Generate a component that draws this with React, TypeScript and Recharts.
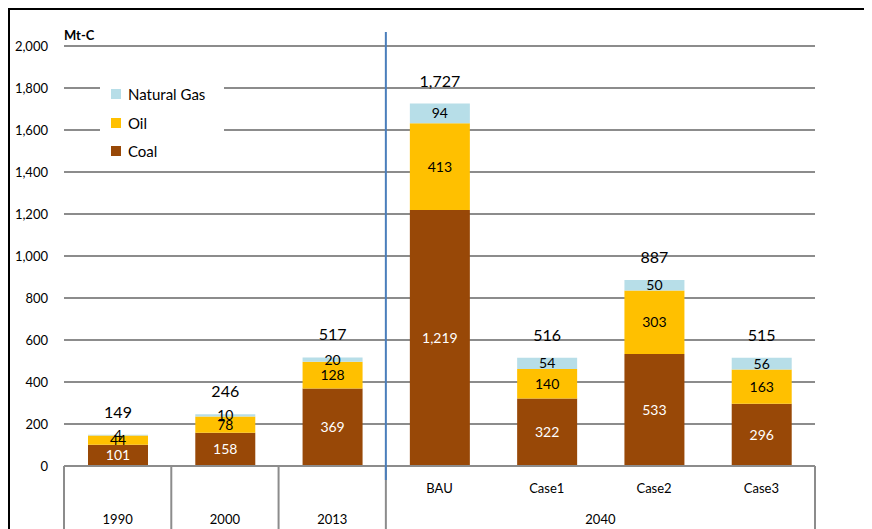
import { BarChart, Bar, XAxis, YAxis, CartesianGrid, LabelList } from 'recharts'

const groups = ['1990', '2000', '2013', '2040', '2040', '2040', '2040']
const cases = ['', '', '', 'BAU', 'Case1', 'Case2', 'Case3']
const coal = [101, 158, 369, 1219, 322, 533, 296]
const oil = [44, 78, 128, 413, 140, 303, 163]
const gas = [4, 10, 20, 94, 54, 50, 56]
const totals = [149, 246, 517, 1727, 516, 887, 515]
const yTicks = [0, 200, 400, 600, 800, 1000, 1200, 1400, 1600, 1800, 2000]

const series = [
  { key: 'coal', name: 'Coal', color: '#984807', text: '#ffffff' },
  { key: 'oil', name: 'Oil', color: '#ffc000', text: '#000000' },
  { key: 'gas', name: 'Natural Gas', color: '#b7dee8', text: '#000000' },
]

const data = groups.map((g, i) => ({
  name: cases[i] || g,
  coal: coal[i],
  oil: oil[i],
  gas: gas[i],
  total: totals[i],
}))

const FONT = 'Lato, "Noto Sans", sans-serif'
const CHART_W = 862
const CHART_H = 519
const M_LEFT = 54
const M_TOP = 36
const M_RIGHT = 57
const X_H = 63
const PLOT_W = CHART_W - M_LEFT - M_RIGHT
const BAND = PLOT_W / groups.length
const AXIS_Y = CHART_H - X_H
const GRID = '#8c8c8c'

const fmt = (v: number) => v.toLocaleString('en-US')

function AxisTick(props: any) {
  const { x, index } = props
  const g = groups[index]
  const c = cases[index]
  const first = groups.indexOf(g) === index
  const n = groups.filter((v) => v === g).length
  return (
    <g>
      {c && (
        <text x={x} y={AXIS_Y + 22} textAnchor="middle" dominantBaseline="central" fontSize={13} fill="#000">
          {c}
        </text>
      )}
      {first && (
        <text
          x={x - BAND / 2 + (n * BAND) / 2}
          y={AXIS_Y + 53}
          textAnchor="middle"
          dominantBaseline="central"
          fontSize={13}
          fill="#000"
        >
          {g}
        </text>
      )}
    </g>
  )
}

// boundaries between year groups in the axis table
const boundaries = groups
  .map((g, i) => (groups.indexOf(g) === i ? i : -1))
  .filter((i) => i >= 0)
  .concat([groups.length])

export default function App() {
  return (
    <div
      style={{
        position: 'relative',
        width: 864,
        height: 521,
        borderTop: '2px solid #000',
        borderLeft: '2px solid #000',
        boxSizing: 'border-box',
        fontFamily: FONT,
      }}
    >
      <BarChart
        width={CHART_W}
        height={CHART_H}
        data={data}
        margin={{ top: M_TOP, right: M_RIGHT, left: 0, bottom: 0 }}
        style={{ fontFamily: FONT }}
      >
        <CartesianGrid vertical={false} stroke={GRID} strokeWidth={2} />
        <XAxis
          dataKey="name"
          height={X_H}
          interval={0}
          tickLine={false}
          axisLine={{ stroke: GRID, strokeWidth: 2 }}
          tick={<AxisTick />}
        />
        <YAxis
          width={M_LEFT}
          domain={[0, 2000]}
          ticks={yTicks}
          axisLine={false}
          tickLine={false}
          tickMargin={10}
          tickFormatter={fmt}
          tick={{ fontSize: 13, fill: '#000' }}
        />
        {series.map((s, si) => (
          <Bar key={s.key} dataKey={s.key} stackId="a" fill={s.color} barSize={60} isAnimationActive={false}>
            <LabelList dataKey={s.key} position="center" fontSize={14} fill={s.text} formatter={(v: any) => fmt(v)} />
            {si === series.length - 1 && (
              <LabelList dataKey="total" position="top" offset={17} fontSize={16} fill="#000" formatter={(v: any) => fmt(v)} />
            )}
          </Bar>
        ))}
      </BarChart>

      <svg width={CHART_W} height={CHART_H} style={{ position: 'absolute', left: 0, top: 0, pointerEvents: 'none' }}>
        {boundaries.map((b) => (
          <line
            key={b}
            x1={M_LEFT + b * BAND}
            x2={M_LEFT + b * BAND}
            y1={AXIS_Y}
            y2={CHART_H}
            stroke={GRID}
            strokeWidth={2}
          />
        ))}
        <line
          x1={M_LEFT + 3 * BAND}
          x2={M_LEFT + 3 * BAND}
          y1={22}
          y2={AXIS_Y + 14}
          stroke="#4a7ebb"
          strokeWidth={2}
        />
        <text x={M_LEFT} y={25} fontSize={13} fontWeight="bold" fill="#000" dominantBaseline="central">
          Mt-C
        </text>
      </svg>

      <div
        style={{
          position: 'absolute',
          left: 90,
          top: 70,
          width: 124,
          height: 86,
          background: '#fff',
        }}
      >
        {[...series].reverse().map((s, i) => (
          <div
            key={s.key}
            style={{ position: 'absolute', left: 11, top: 3 + i * 28.5, height: 22, display: 'flex', alignItems: 'center' }}
          >
            <span style={{ display: 'inline-block', width: 10, height: 10, background: s.color, marginRight: 7 }} />
            <span style={{ fontSize: 15, color: '#000' }}>{s.name}</span>
          </div>
        ))}
      </div>
    </div>
  )
}
